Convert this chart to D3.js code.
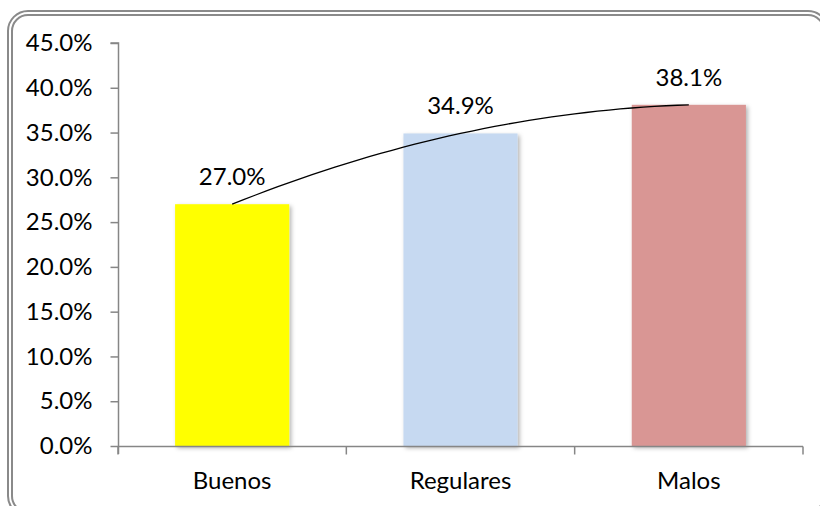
<!DOCTYPE html>
<html><head><meta charset="utf-8">
<script src="https://cdn.jsdelivr.net/npm/d3@7"></script>
<style>html,body{margin:0;padding:0;background:#fff;}svg{display:block;}</style>
</head><body>
<svg id="chart" width="820" height="506"></svg>
<script>
const categories = ["Buenos", "Regulares", "Malos"];
const values = [0.270, 0.349, 0.381];
const barColors = ["#FFFF00", "#C6D9F1", "#D99694"];
const yTicks = [0, 0.05, 0.10, 0.15, 0.20, 0.25, 0.30, 0.35, 0.40, 0.45];

const W = 820, H = 506;
const plot = {left: 118, right: 803, top: 43, bottom: 446};
const FONT = "Lato, 'Open Sans', sans-serif";
const FS = 24;
const axisColor = "#868686";

const svg = d3.select("#chart");
const defs = svg.append("defs");
const f = defs.append("filter").attr("id", "shadow").attr("x", "-10%").attr("y", "-10%").attr("width", "130%").attr("height", "130%");
f.append("feDropShadow").attr("dx", 2).attr("dy", 2).attr("stdDeviation", 2).attr("flood-color", "#000").attr("flood-opacity", 0.3);

// frame (double line, rounded)
svg.append("rect").attr("x", 8).attr("y", 11).attr("width", 820).attr("height", 505)
  .attr("rx", 20).attr("fill", "none").attr("stroke", "#8a8a8a").attr("stroke-width", 2);
svg.append("rect").attr("x", 12).attr("y", 15).attr("width", 812).attr("height", 497)
  .attr("rx", 16).attr("fill", "none").attr("stroke", "#8a8a8a").attr("stroke-width", 2);

const x = d3.scaleBand().domain(categories).range([plot.left, plot.right]).paddingInner(0.5).paddingOuter(0.25);
const y = d3.scaleLinear().domain([0, 0.45]).range([plot.bottom, plot.top]);
const pct = d3.format(".1%");

// bars
svg.append("g").selectAll("rect").data(categories).join("rect")
  .attr("x", d => x(d)).attr("width", x.bandwidth())
  .attr("y", (d, i) => y(values[i])).attr("height", (d, i) => y(0) - y(values[i]))
  .attr("fill", (d, i) => barColors[i]).attr("filter", "url(#shadow)");

// y axis
const yAxis = d3.axisLeft(y).tickValues(yTicks).tickFormat(pct).tickSize(8).tickPadding(18);
const gy = svg.append("g").attr("transform", `translate(${plot.left + 0.5},0)`).call(yAxis);
gy.select(".domain").attr("stroke", axisColor).attr("stroke-width", 1.5).attr("d", `M-8,${plot.top}H0V${plot.bottom + 8}`);
gy.selectAll(".tick line").attr("stroke", axisColor).attr("stroke-width", 1.5);
gy.selectAll(".tick text").attr("font-family", FONT).attr("font-size", FS).attr("fill", "#000");

// x axis
const gx = svg.append("g").attr("transform", `translate(0,${plot.bottom + 0.5})`);
gx.append("line").attr("x1", plot.left).attr("x2", plot.right).attr("stroke", axisColor).attr("stroke-width", 1.5);
const bounds = categories.map(c => x(c) - x.step() * x.paddingInner() / 2).concat([plot.right]);
gx.selectAll(".bt").data(bounds).join("line").attr("class", "bt")
  .attr("x1", d => d).attr("x2", d => d).attr("y1", 0).attr("y2", 8)
  .attr("stroke", axisColor).attr("stroke-width", 1.5);
gx.selectAll("text").data(categories).join("text")
  .attr("x", d => x(d) + x.bandwidth() / 2).attr("y", 42)
  .attr("text-anchor", "middle").attr("font-family", FONT).attr("font-size", FS).attr("fill", "#000")
  .text(d => d);

// polynomial (order 2) trendline through bar tops
const n = values.length;
const xs = d3.range(1, n + 1);
function polyfit2(X, Y) {
  let s = [0,0,0,0,0], t = [0,0,0];
  X.forEach((xv, i) => { for (let k = 0; k < 5; k++) s[k] += Math.pow(xv, k); for (let k = 0; k < 3; k++) t[k] += Y[i] * Math.pow(xv, k); });
  const A = [[s[0], s[1], s[2], t[0]], [s[1], s[2], s[3], t[1]], [s[2], s[3], s[4], t[2]]];
  for (let i = 0; i < 3; i++) {
    for (let j = i + 1; j < 3; j++) { const r = A[j][i] / A[i][i]; for (let k = i; k < 4; k++) A[j][k] -= r * A[i][k]; }
  }
  const c = [0,0,0];
  for (let i = 2; i >= 0; i--) { let v = A[i][3]; for (let k = i + 1; k < 3; k++) v -= A[i][k] * c[k]; c[i] = v / A[i][i]; }
  return c;
}
const coef = polyfit2(xs, values);
const xi = d3.scaleLinear().domain([1, n]).range([x(categories[0]) + x.bandwidth() / 2, x(categories[n - 1]) + x.bandwidth() / 2]);
const pts = d3.range(1, n + 0.001, 0.05).map(t => [xi(t), y(coef[0] + coef[1] * t + coef[2] * t * t)]);
svg.append("path").attr("d", d3.line()(pts)).attr("fill", "none").attr("stroke", "#000").attr("stroke-width", 1.3);

// value labels
svg.append("g").selectAll("text").data(categories).join("text")
  .attr("x", d => x(d) + x.bandwidth() / 2).attr("y", (d, i) => y(values[i]) - 19)
  .attr("text-anchor", "middle").attr("font-family", FONT).attr("font-size", FS).attr("fill", "#000")
  .text((d, i) => pct(values[i]));
</script>
</body></html>
